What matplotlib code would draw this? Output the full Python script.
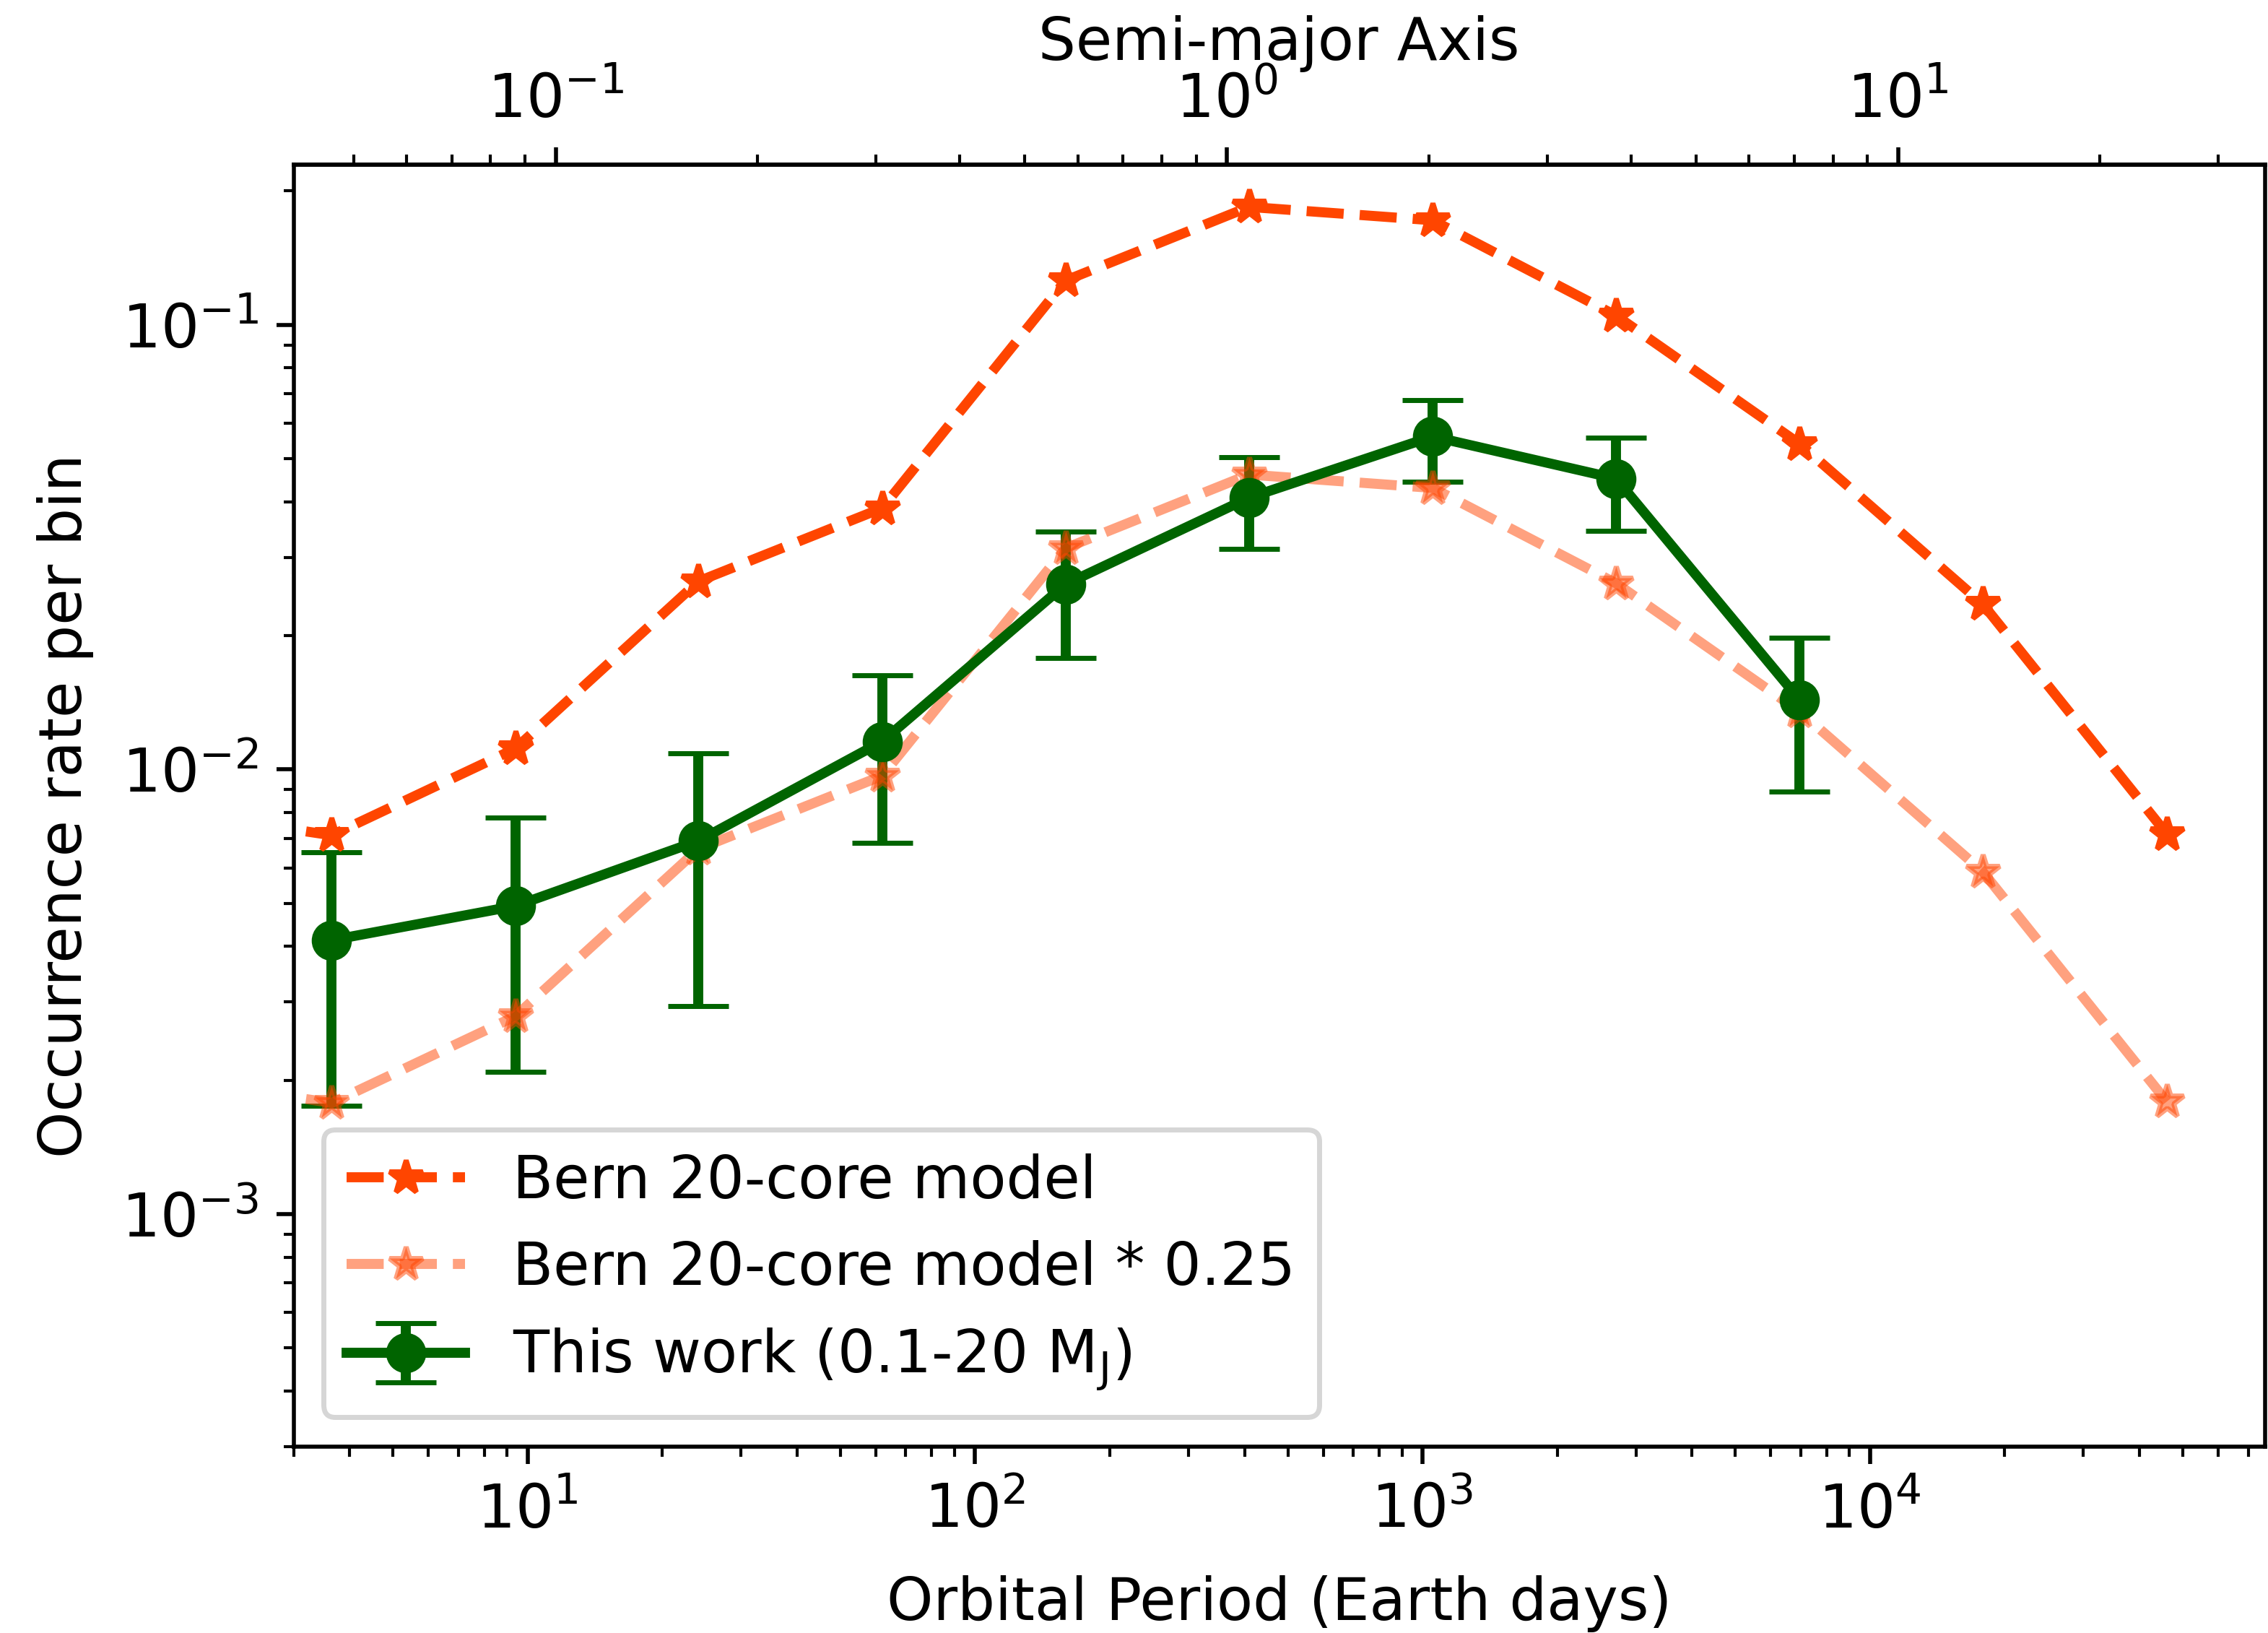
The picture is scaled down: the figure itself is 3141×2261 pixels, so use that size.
import numpy as np
import matplotlib
matplotlib.use("Agg")
import matplotlib.pyplot as plt

plt.rcParams['font.size'] = 11.8

# Bern model (first point lies just left of the plotted range)
period_bern = [1.42, 3.65, 9.39, 24.1, 62.0, 159.3, 409.4, 1053.0, 2707.0, 6960.0, 17850.0, 46060.0]
rate_bern = [0.0082, 0.00711, 0.01114, 0.0265, 0.0387, 0.1258, 0.1842, 0.1719, 0.1049, 0.0540, 0.02357, 0.00716]
scale_factor = 0.25

# This work
period_obs = [3.65, 9.39, 24.1, 62.0, 159.3, 409.4, 1053.0, 2707.0, 6960.0]
rate_obs = [0.00413, 0.00493, 0.00691, 0.01156, 0.02609, 0.04084, 0.0561, 0.0451, 0.01435]
rate_hi = [0.0065, 0.0078, 0.01088, 0.01629, 0.03427, 0.05045, 0.0677, 0.0557, 0.01977]
rate_lo = [0.00175, 0.00209, 0.00293, 0.00684, 0.01782, 0.03128, 0.0443, 0.0344, 0.00893]

label_bern = 'Bern 20-core model'
label_bern_s = 'Bern 20-core model * 0.25'
label_obs = 'This work (0.1-20 M$_\\mathrm{J}$)'

fig = plt.figure(figsize=(6.282, 4.522), dpi=500)
ax = fig.add_axes([0.12948, 0.11424, 0.86915, 0.78479])

r = np.array(rate_obs)
yerr = [r - np.array(rate_lo), np.array(rate_hi) - r]
ax.errorbar(period_obs, rate_obs, yerr=yerr, fmt='-o', color='darkgreen',
            lw=2, ms=7, capsize=6, label=label_obs)
ax.plot(period_bern, rate_bern, '--*', color='orangered', lw=2, ms=7, label=label_bern)
ax.plot(period_bern, np.array(rate_bern) * scale_factor, '--*', color='orangered',
        alpha=0.5, lw=2, ms=7, label=label_bern_s)

ax.set_xscale('log')
ax.set_yscale('log')
ax.set_xlim(3, 76300)
ax.set_ylim(3.0e-4, 0.229)
ax.tick_params(axis='both', labelsize=12)
ax.set_xlabel('Orbital Period (Earth days)', labelpad=7)
ax.set_ylabel('Occurrence rate per bin', labelpad=5.5)


def p2a(p):
    p = np.maximum(np.asarray(p, dtype=float), 1e-12)
    return (p / 365.25) ** (2.0 / 3.0)


def a2p(a):
    a = np.maximum(np.asarray(a, dtype=float), 1e-12)
    return 365.25 * a ** 1.5


sec = ax.secondary_xaxis('top', functions=(p2a, a2p))
sec.tick_params(axis='x', labelsize=12)
sec.set_xlabel('Semi-major Axis', labelpad=2.2)

ax.legend(loc='lower left')

fig.savefig('out.png', dpi=500)
